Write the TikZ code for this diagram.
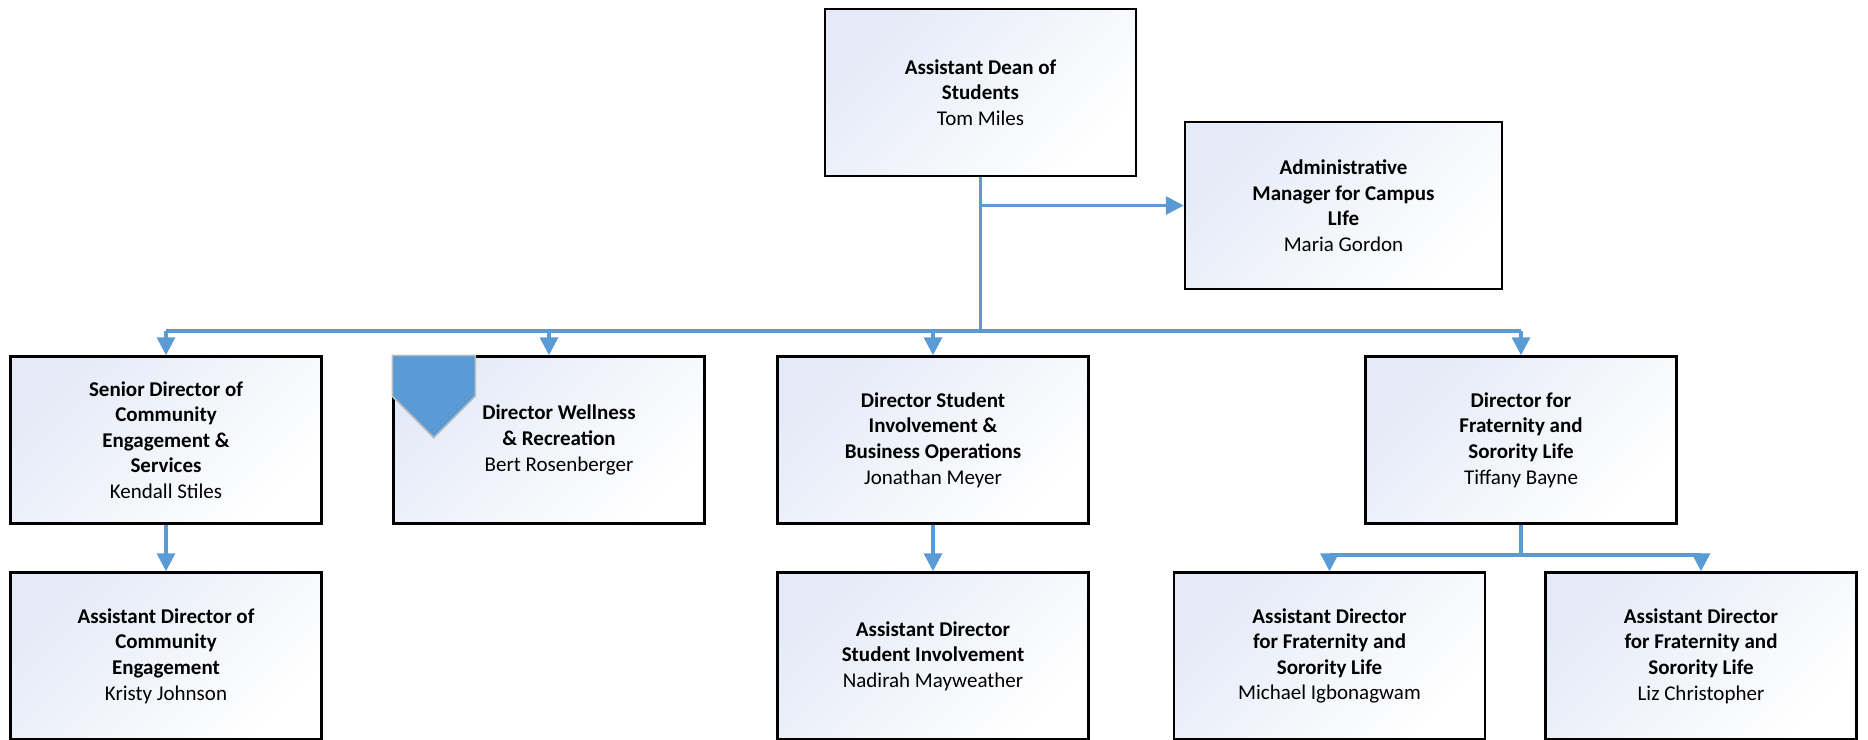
\documentclass[tikz,border=0pt]{standalone}
\usepackage{fontspec}
\setmainfont{Carlito}
\usepackage{xcolor}
\usepackage{tikz}
\usetikzlibrary{arrows.meta,positioning,calc}
\definecolor{boxtop}{RGB}{228,234,247}
\definecolor{linkblue}{RGB}{91,155,213}
\definecolor{tagline}{RGB}{190,190,190}
\begin{document}
\begin{tikzpicture}[
  x=1pt, y=-1pt,
  font=\fontsize{21}{25.6}\selectfont\bfseries, node distance=46.5pt,
  unit/.style={draw, line width=2.5pt, minimum width=311pt, minimum height=167pt,
    align=center, inner sep=0pt, top color=boxtop, middle color=white, bottom color=white, shading angle=45},
  link/.style={draw=linkblue, line width=3.5pt},
  arr/.style={link, -{Triangle[length=18pt, width=18pt]}},
  tag/.style={fill=linkblue, draw=tagline, line width=1.5pt}
]
\useasboundingbox (0,0) rectangle (1868,739);
\clip (0,0) rectangle (1868,739);
\node[unit] (dean) at (980.5,92.5) {Assistant Dean of\\Students\\\textmd{Tom Miles}};
\node[unit, minimum width=317pt] (admin) at (1343.5,205.5) {Administrative\\Manager for Campus\\LIfe\\\textmd{Maria Gordon}};
\node[unit] (sdce) at (166,440) {Senior Director of\\Community\\Engagement \&\\Services\\\textmd{Kendall Stiles}};
\node[unit, right=69.5pt of sdce] (dwr) {\hspace*{20pt}Director Wellness\\\hspace*{20pt}\& Recreation\\\hspace*{20pt}\textmd{Bert Rosenberger}};
\node[unit, right=70.5pt of dwr] (dsibo) {Director Student\\Involvement \&\\Business Operations\\\textmd{Jonathan Meyer}};
\node[unit, right=274.5pt of dsibo] (dfsl) {Director for\\Fraternity and\\Sorority Life\\\textmd{Tiffany Bayne}};
\node[unit, below=of sdce] (adce) {Assistant Director of\\Community\\Engagement\\\textmd{Kristy Johnson}};
\node[unit, below=of dsibo] (adsi) {Assistant Director\\Student Involvement\\\textmd{Nadirah Mayweather}};
\node[unit] (adfa) at (1329.5,656) {Assistant Director\\for Fraternity and\\Sorority Life\\\textmd{Michael Igbonagwam}};
\node[unit, right=58pt of adfa] (adfb) {Assistant Director\\for Fraternity and\\Sorority Life\\\textmd{Liz Christopher}};
\coordinate (bus) at (0,331);
\coordinate (busb) at (0,555);
\draw[tag] (dwr.north west) -- ++(83,0) -- ++(0,41) -- ++(-41.5,41.5) -- ++(-41.5,-41.5) -- cycle;
\draw[link] (dean.south) -- (dean.south |- bus);
\draw[arr] (dean.south |- admin.west) -- (admin.west);
\draw[link] (sdce.north |- bus) -- (dfsl.north |- bus);
\draw[arr] (sdce.north |- bus) -- (sdce.north); \draw[arr] (dwr.north |- bus) -- (dwr.north);
\draw[arr] (dsibo.north |- bus) -- (dsibo.north); \draw[arr] (dfsl.north |- bus) -- (dfsl.north);
\draw[arr] (sdce) -- (adce); \draw[arr] (dsibo) -- (adsi);
\draw[link] (dfsl.south) -- (dfsl.south |- busb);
\draw[link] (adfa.north |- busb) -- (adfb.north |- busb);
\draw[arr] (adfa.north |- busb) -- (adfa.north); \draw[arr] (adfb.north |- busb) -- (adfb.north);
\end{tikzpicture}
\end{document}
